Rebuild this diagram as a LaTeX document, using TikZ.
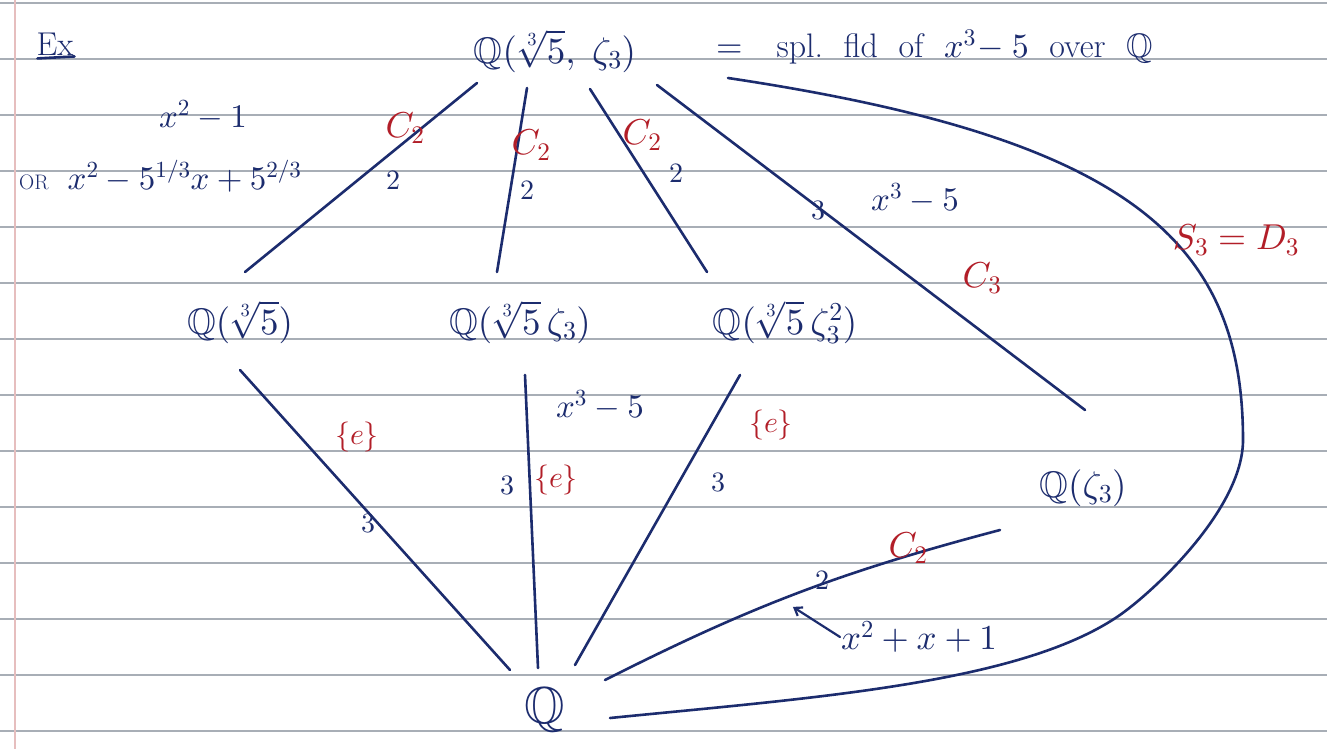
\documentclass[tikz,border=0pt]{standalone}
\usepackage{amssymb}
\DeclareFontShape{OT1}{cmr}{m}{n}{<->cmr10}{}
\DeclareFontShape{OML}{cmm}{m}{it}{<->cmmi10}{}
\DeclareFontShape{OMS}{cmsy}{m}{n}{<->cmsy10}{}
\DeclareFontShape{OMX}{cmex}{m}{n}{<->cmex10}{}
\DeclareFontFamily{U}{msb}{}
\DeclareFontShape{U}{msb}{m}{n}{<->msbm10}{}
\usetikzlibrary{arrows.meta,calc}
\definecolor{ink}{RGB}{28,44,110}
\definecolor{redink}{RGB}{178,30,40}
\definecolor{rulecol}{RGB}{168,174,182}
\definecolor{margincol}{RGB}{230,190,190}
\begin{document}
\begin{tikzpicture}[x=1pt,y=-1pt,
  field/.style={text=ink, inner sep=2pt, font=\fontsize{37}{40}\selectfont},
  bigfield/.style={text=ink, inner sep=2pt, font=\fontsize{37}{40}\selectfont},
  edge/.style={draw=ink, line width=2.6pt, line cap=round},
  grp/.style={text=redink, inner sep=1pt, font=\fontsize{36}{40}\selectfont},
  smallgrp/.style={text=redink, inner sep=1pt, font=\fontsize{30}{34}\selectfont},
  deg/.style={text=ink, inner sep=1pt, font=\fontsize{28}{32}\selectfont},
  note/.style={text=ink, inner sep=1pt, font=\fontsize{33}{36}\selectfont}]
\fill[white] (0,0) rectangle (1327,749);
\useasboundingbox (0,0) rectangle (1327,749);
\foreach \y in {3,59,...,731} \draw[rulecol, line width=1.4pt] (0,\y) -- (1327,\y);
\draw[margincol, line width=1.4pt] (15,0) -- (15,749);

% nodes
\node[bigfield] (top) at (555,51) {$\mathbb{Q}(\sqrt[3]{5},\;\zeta_3)$};
\node[note, anchor=west, font=\fontsize{34}{38}\selectfont] (spl) at (715,47) {$=$\quad spl.\ \ fld\ \ of\ \ $x^3\!-5$\ \ over\ \ $\mathbb{Q}$};
\node[field] (a) at (240,322) {$\mathbb{Q}(\sqrt[3]{5})$};
\node[field] (b) at (520,322) {$\mathbb{Q}(\sqrt[3]{5}\,\zeta_3)$};
\node[field] (c) at (785,322) {$\mathbb{Q}(\sqrt[3]{5}\,\zeta_3^2)$};
\node[field] (d) at (1083,488) {$\mathbb{Q}(\zeta_3)$};
\node[text=ink, inner sep=2pt, font=\fontsize{52}{56}\selectfont] (q) at (545,710) {$\mathbb{Q}$};

% Ex
\node[note] (ex) at (55,44) {Ex};
\draw[ink, line width=2.6pt, line cap=round] ($(ex.south west)+(2,2)$) -- ($(ex.south east)+(0,0)$);

% side notes
\node[note] (p1) at (203,115) {$x^2-1$};
\node[note, anchor=west] (p2) at (18,176) {{\fontsize{21}{24}\selectfont OR}\; $x^2-5^{1/3}x+5^{2/3}$};

% top fan
\draw[edge] ($(top)+(-78,32)$) -- ($(a)+(5,-50)$);
\draw[edge] ($(top)+(-28,37)$) -- ($(b)+(-23,-50)$);
\draw[edge] ($(top)+(35,38)$) -- ($(c)+(-78,-50)$);
\draw[edge] ($(top)+(102,34)$) -- ($(d)+(2,-78)$);
\draw[edge] ($(top)+(173,27)$) .. controls (1128,138) and (1243,240) .. (1243,440)
   .. controls (1243,510) and (1150,595) .. (1117,617)
   .. controls (1017,684) and (810,698) .. ($(q)+(65,8)$);

% bottom fan
\draw[edge] ($(a)+(0,48)$) -- ($(q)+(-35,-40)$);
\draw[edge] ($(b)+(5,53)$) -- ($(q)+(-7,-42)$);
\draw[edge] ($(c)+(-45,53)$) -- ($(q)+(30,-45)$);
\draw[edge] ($(q)+(60,-30)$) to[bend left=6] coordinate[pos=0.5] (m) ($(d)+(-83,42)$);

% labels on top fan
\node[grp] (l1) at (405,128) {$C_2$};
\node[deg] (d1) at (393,180) {$2$};
\node[grp] (l2) at (531,145) {$C_2$};
\node[deg] (d2) at (527,190) {$2$};
\node[grp] (l3) at (642,135) {$C_2$};
\node[deg] (d3) at (676,173) {$2$};
\node[deg] (d4) at (818,210) {$3$};
\node[note] (f4) at (915,198) {$x^3-5$};
\node[grp] (l4) at (982,278) {$C_3$};
\node[grp] (l5) at (1236,240) {$S_3=D_3$};

% labels on bottom fan
\node[smallgrp] (e1) at (357,437) {$\{e\}$};
\node[deg] (d5) at (368,523) {$3$};
\node[note] (f6) at (600,405) {$x^3-5$};
\node[deg] (d6) at (507,485) {$3$};
\node[smallgrp] (e2) at (556,480) {$\{e\}$};
\node[smallgrp] (e3) at (771,425) {$\{e\}$};
\node[deg] (d7) at (718,482) {$3$};
\node[deg] (d8) at (822,580) {$2$};
\node[grp] (l8) at (908,548) {$C_2$};
\node[note, anchor=west, font=\fontsize{35}{38}\selectfont] (f8) at (840,637) {$x^2+x+1$};
\draw[ink, line width=2.2pt, line cap=round, -{Straight Barb[length=7pt,width=10pt]}] (f8.west) -- ($(m)+(-5,14)$);
\end{tikzpicture}
\end{document}
